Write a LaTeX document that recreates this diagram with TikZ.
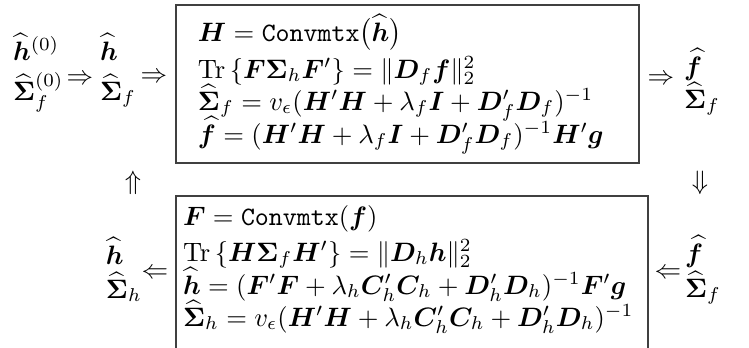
\documentclass[tikz,border=0pt]{standalone}
\usepackage{amsmath,amssymb,bm}
\newcommand{\hh}{\widehat{\bm{h}}}
\newcommand{\hS}{\widehat{\bm{\Sigma}}}
\newcommand{\hf}{\widehat{\bm{f}}}
\newcommand{\cvm}{\texttt{Convmtx}}
\tikzset{
  lbl/.style={anchor=base west, inner sep=0pt, outer sep=0pt},
  glyph/.style={anchor=center, inner sep=0pt, outer sep=0pt},
  frame/.style={draw=black!75, line width=0.7pt},
}
\begin{document}
\begin{tikzpicture}[x=0.376pt,y=-0.376pt]
\clip (0,0) rectangle (749,347);
\useasboundingbox (0,0) rectangle (749,347);
% boxes
\coordinate (tbA) at (176,5);
\coordinate (tbB) at (639,163);
\coordinate (bbA) at (176,196);
\coordinate (bbB) at (648,380);
\draw[frame] (tbA) rectangle (tbB);
\draw[frame] (bbA) rectangle (bbB);
% top-left initial values
\node[lbl] (h0) at (13,60) {$\hh^{(0)}$};
\node[lbl] (s0) at (13,100) {$\hS_f^{(0)}$};
\node[glyph] (a1) at (80,80) {$\Rightarrow$};
\node[lbl] (h1) at (100,60) {$\hh$};
\node[lbl] (s1) at (100,100) {$\hS_f$};
\node[glyph] (a2) at (154,78) {$\Rightarrow$};
% top box lines
\node[lbl] (t1) at (198,41) {$\bm{H} = \cvm\bigl(\hh\bigr)$};
\node[lbl] (t2) at (198,78) {$\operatorname{Tr}\left\{\bm{F}\bm{\Sigma}_h\bm{F}'\right\} = \|\bm{D}_f\bm{f}\|_2^2$};
\node[lbl] (t3) at (198,110) {$\hS_f = v_\epsilon(\bm{H}'\bm{H} + \lambda_f\bm{I} + \bm{D}'_f\bm{D}_f)^{-1}$};
\node[lbl] (t4) at (198,143) {$\hf = (\bm{H}'\bm{H} + \lambda_f\bm{I} + \bm{D}'_f\bm{D}_f)^{-1}\bm{H}'\bm{g}$};
% top right
\node[glyph] (a3) at (661,80) {$\Rightarrow$};
\node[lbl] (f1) at (684,75) {$\hf$};
\node[lbl] (s2) at (684,108) {$\hS_f$};
% vertical arrows
\node[glyph] (up) at (133,183) {$\Uparrow$};
\node[glyph] (dn) at (700,183) {$\Downarrow$};
% bottom box lines
\node[lbl] (b1) at (183,225) {$\bm{F} = \cvm(\bm{f})$};
\node[lbl] (b2) at (183,261) {$\operatorname{Tr}\left\{\bm{H}\bm{\Sigma}_f\bm{H}'\right\} = \|\bm{D}_h\bm{h}\|_2^2$};
\node[lbl] (b3) at (183,294) {$\hh = (\bm{F}'\bm{F} + \lambda_h\bm{C}'_h\bm{C}_h + \bm{D}'_h\bm{D}_h)^{-1}\bm{F}'\bm{g}$};
\node[lbl] (b4) at (183,326) {$\hS_h = v_\epsilon(\bm{H}'\bm{H} + \lambda_h\bm{C}'_h\bm{C}_h + \bm{D}'_h\bm{D}_h)^{-1}$};
% bottom right
\node[glyph] (a4) at (668,274) {$\Leftarrow$};
\node[lbl] (f2) at (685,262) {$\hf$};
\node[lbl] (s3) at (685,297) {$\hS_f$};
% bottom left
\node[glyph] (a5) at (155,274) {$\Leftarrow$};
\node[lbl] (h2) at (106,264) {$\hh$};
\node[lbl] (s4) at (106,298) {$\hS_h$};
\end{tikzpicture}
\end{document}
